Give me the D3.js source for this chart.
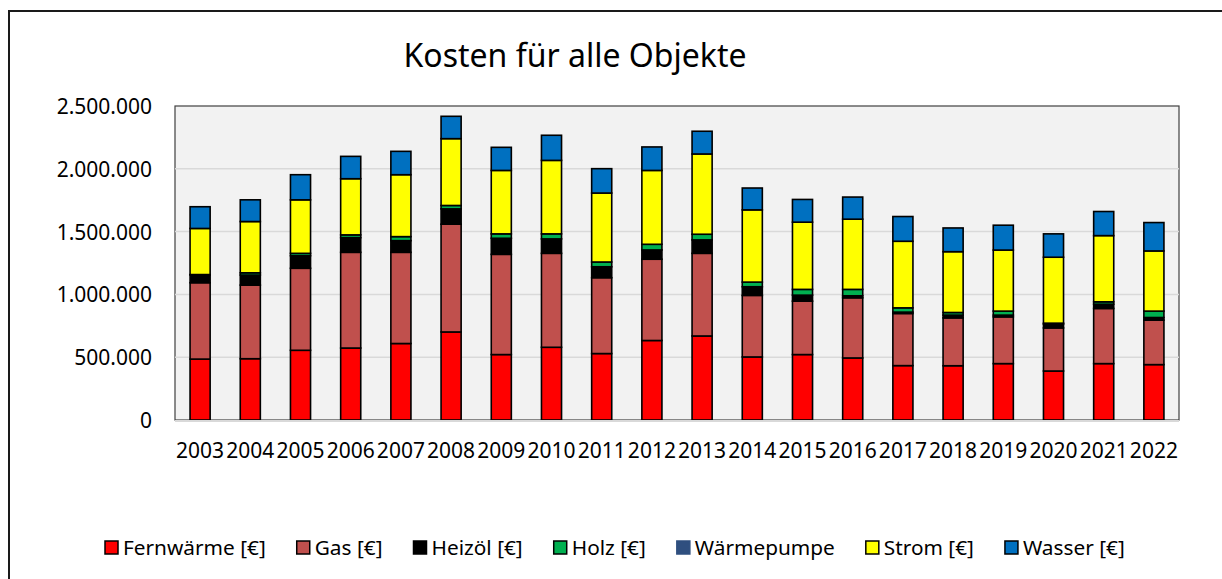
<!DOCTYPE html>
<html>
<head>
<meta charset="utf-8">
<script src="https://cdn.jsdelivr.net/npm/d3@7"></script>
<style>
  body { margin: 0; background: #fff; }
  text { font-family: "Noto Sans", "Open Sans", sans-serif; fill: #000; }
</style>
</head>
<body>
<div id="chart"></div>
<script>
// Daten (Werte in Euro, aus dem Bild geschaetzt)
var years = ["2003","2004","2005","2006","2007","2008","2009","2010","2011","2012",
             "2013","2014","2015","2016","2017","2018","2019","2020","2021","2022"];
var fernwaerme = [485000,488000,555000,573000,609000,701000,521000,579000,529000,633000,
                  669000,502000,521000,494000,433000,432000,449000,390000,449000,441000];
var gas = [608000,586000,653000,762000,726000,858000,798000,748000,604000,647000,
           658000,490000,425000,479000,415000,381000,372000,343000,439000,354000];
var heizoel = [62000,80000,100000,117000,93000,122000,128000,115000,87000,74000,
               107000,69000,48000,16000,11000,22000,14000,30000,34000,21000];
var holz = [3000,18000,19000,22000,32000,27000,35000,40000,38000,45000,
            45000,37000,46000,51000,34000,21000,32000,8000,19000,51000];
var waermepumpe = [0,0,0,0,0,0,0,0,0,0,0,0,0,0,0,0,0,0,0,0];
var strom = [367000,408000,426000,447000,493000,532000,505000,585000,549000,588000,
             639000,575000,535000,559000,530000,484000,486000,525000,527000,479000];
var wasser = [173000,173000,200000,178000,186000,178000,184000,200000,194000,187000,
              181000,174000,181000,176000,197000,189000,198000,186000,192000,226000];
var yTicks = [0, 500000, 1000000, 1500000, 2000000, 2500000];

var series = [
  { key: "fw", label: "Fernwärme [€]", values: fernwaerme, color: "#ff0000", stroke: "#000" },
  { key: "gas", label: "Gas [€]", values: gas, color: "#c0504d", stroke: "#000" },
  { key: "oel", label: "Heizöl [€]", values: heizoel, color: "#000000", stroke: "#000" },
  { key: "holz", label: "Holz [€]", values: holz, color: "#00b050", stroke: "#000" },
  { key: "wp", label: "Wärmepumpe", values: waermepumpe, color: "#2f4f7f", stroke: "#2f4f7f" },
  { key: "strom", label: "Strom [€]", values: strom, color: "#ffff00", stroke: "#000" },
  { key: "wasser", label: "Wasser [€]", values: wasser, color: "#0070c0", stroke: "#000" }
];

var svgWidth = 1222, svgHeight = 579;
var plot = { left: 175, right: 1179, top: 106, bottom: 420 };

var svg = d3.select("#chart").append("svg")
  .attr("width", svgWidth)
  .attr("height", svgHeight);

// Rahmen
svg.append("rect")
  .attr("x", 9).attr("y", 11)
  .attr("width", 1300).attr("height", 700)
  .attr("fill", "#fff")
  .attr("stroke", "#1a1a1a")
  .attr("stroke-width", 2);

// Titel
svg.append("text")
  .attr("x", 575).attr("y", 67)
  .attr("text-anchor", "middle")
  .style("font-size", "32px")
  .text("Kosten für alle Objekte");

var de = d3.formatLocale({ decimal: ",", thousands: ".", grouping: [3], currency: ["", " €"] });

var x = d3.scaleBand()
  .domain(years)
  .range([plot.left, plot.right])
  .paddingInner(0.6)
  .paddingOuter(0.3);

var y = d3.scaleLinear()
  .domain([0, 2500000])
  .range([plot.bottom, plot.top]);

// Zeichenflaeche
svg.append("rect")
  .attr("x", plot.left).attr("y", plot.top)
  .attr("width", plot.right - plot.left)
  .attr("height", plot.bottom - plot.top)
  .attr("fill", "#f2f2f2")
  .attr("stroke", "#404040")
  .attr("stroke-width", 1.2);

// Gitterlinien
svg.append("g")
  .selectAll("line")
  .data(yTicks.filter(d => d > 0 && d < 2500000))
  .enter().append("line")
  .attr("x1", plot.left).attr("x2", plot.right)
  .attr("y1", d => y(d)).attr("y2", d => y(d))
  .attr("stroke", "#d9d9d9")
  .attr("stroke-width", 1.5);

// Y-Achse
var yAxis = svg.append("g")
  .attr("transform", `translate(${plot.left - 23},0)`)
  .call(d3.axisLeft(y).tickValues(yTicks).tickSize(0).tickPadding(0).tickFormat(de.format(",.0f")));
yAxis.select(".domain").remove();
yAxis.selectAll("text").style("font-size", "21px").attr("dy", "0.36em");

// Balken
var stackData = years.map(function(yr, i) {
  var row = { year: yr };
  series.forEach(s => { row[s.key] = s.values[i]; });
  return row;
});
var stacked = d3.stack().keys(series.map(s => s.key))(stackData);

svg.append("g")
  .selectAll("g")
  .data(stacked)
  .enter().append("g")
  .attr("fill", (d, i) => series[i].color)
  .attr("stroke", "#000")
  .attr("stroke-width", 1.6)
  .selectAll("rect")
  .data(d => d.filter(p => p[1] - p[0] > 0))
  .enter().append("rect")
  .attr("x", d => x(d.data.year))
  .attr("width", x.bandwidth())
  .attr("y", d => y(d[1]))
  .attr("height", d => y(d[0]) - y(d[1]));

// X-Achse
svg.append("line")
  .attr("x1", plot.left).attr("x2", plot.right)
  .attr("y1", plot.bottom + 1).attr("y2", plot.bottom + 1)
  .attr("stroke", "#d9d9d9")
  .attr("stroke-width", 2);

var xAxis = svg.append("g")
  .attr("transform", `translate(0,${plot.bottom})`)
  .call(d3.axisBottom(x).tickSize(0).tickPadding(0));
xAxis.select(".domain").remove();
xAxis.selectAll("text").style("font-size", "21px").attr("dy", null).attr("y", 38);

// Legende
var legend = svg.append("g");
var lx = 105;
series.forEach(function(s) {
  legend.append("rect")
    .attr("x", lx).attr("y", 541)
    .attr("width", 13).attr("height", 13)
    .attr("fill", s.color)
    .attr("stroke", s.stroke)
    .attr("stroke-width", 1.5);
  var t = legend.append("text")
    .attr("x", lx + 18).attr("y", 555)
    .style("font-size", "20.8px")
    .text(s.label);
  lx += 18 + t.node().getComputedTextLength() + 31;
});
</script>
</body>
</html>
